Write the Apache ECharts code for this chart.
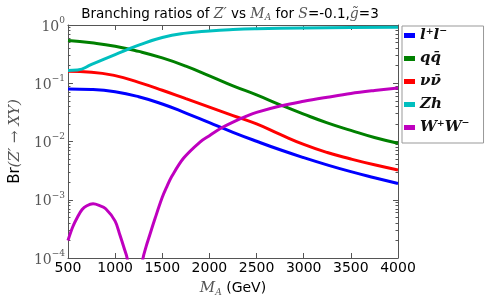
<!DOCTYPE html>
<html><head><meta charset="utf-8">
<script src="https://cdn.jsdelivr.net/npm/echarts@6/dist/echarts.min.js"></script>
<style>html,body{margin:0;padding:0;background:#fff}#c{width:491px;height:302px}</style>
</head><body><div id="c"></div>
<script>
// ---- data ----
const massTicks = [500, 1000, 1500, 2000, 2500, 3000, 3500, 4000];
const yTicks = [1e-4, 1e-3, 1e-2, 1e-1, 1];
const mass = [500, 750, 1000, 1250, 1500, 1750, 2000, 2250, 2500, 2750, 3000, 3250, 3500, 3750, 4000];
const brLL = [0.080, 0.0782, 0.0713, 0.0586, 0.0440, 0.0308, 0.0210, 0.0144, 0.0101, 0.00721, 0.00528, 0.00396, 0.00304, 0.00239, 0.00190];
const brQQ = [0.54, 0.495, 0.433, 0.352, 0.272, 0.197, 0.134, 0.0902, 0.0631, 0.0427, 0.0295, 0.0209, 0.0155, 0.0117, 0.00933];
const brNN = [0.16, 0.155, 0.135, 0.1035, 0.0759, 0.0543, 0.0389, 0.0279, 0.0200, 0.0132, 0.0089, 0.00646, 0.00501, 0.00398, 0.00324];
const massZh = [500, 600, 750, 1000, 1250, 1500, 1750, 2000, 2250, 2500, 3000, 3500, 4000];
const brZh = [0.166, 0.169, 0.21, 0.31, 0.45, 0.61, 0.725, 0.79, 0.835, 0.862, 0.89, 0.905, 0.915];
const massWW = [500, 550, 600, 650, 700, 766, 830, 900, 1000, 1050, 1100, 1127, 1150, 1180, 1210, 1240, 1270, 1296, 1330, 1357, 1424, 1500, 1550, 1600, 1727, 1900, 2000, 2130, 2250, 2400, 2500, 2750, 3000, 3250, 3500, 3750, 4000];
const brWW = [2.0e-4, 3.4e-4, 5.0e-4, 6.8e-4, 7.9e-4, 8.5e-4, 8.0e-4, 7.0e-4, 4.3e-4, 2.5e-4, 1.4e-4, 1.0e-4, 5.2e-5, 1.3e-5, 1e-7, 1.2e-5, 4.9e-5, 1.0e-4, 1.6e-4, 2.2e-4, 4.8e-4, 1.1e-3, 1.7e-3, 2.5e-3, 5.2e-3, 0.0098, 0.0126, 0.0172, 0.0216, 0.0275, 0.0316, 0.0407, 0.049, 0.0575, 0.0668, 0.075, 0.083];
const names = ['l⁺l⁻', 'qq̄', 'νν̄', 'Zh', 'W⁺W⁻'];
const colors = ['#0000ff', '#008000', '#ff0000', '#00bfbf', '#bf00bf'];

const minorTicks = [];
for (let e = -4; e < 0; e++) for (let k = 2; k <= 9; k++) minorTicks.push(k * Math.pow(10, e));

const pairs = (xs, ys) => xs.map((x, i) => [x, ys[i]]);
const serif = 'DejaVu Serif';
const sans = 'DejaVu Sans';
const frame = '#555';

const chart = echarts.init(document.getElementById('c'), null, {renderer: 'canvas'});
const grid = {left: 52, right: 93, top: 25, bottom: 37};

function yAxisBase(pos, extra) {
  return Object.assign({
    type: 'log', logBase: 10, min: 1e-4, max: 1, position: pos, gridIndex: 0,
    axisLine: {show: true, lineStyle: {color: frame, width: 1}},
    splitLine: {show: false},
    axisLabel: {show: false},
    axisTick: {show: true, inside: true, length: 5, lineStyle: {color: frame}}
  }, extra);
}

const option = {
  animation: false,
  backgroundColor: '#fff',
  title: {
    text: '{n|Branching ratios of }{m|Z′}{n| vs }{m|M}{sub|A}{n| for }{m|S}{n|=-0.1,}{m|g̃}{n|=3}',
    left: 225, top: 2, textAlign: 'center',
    textStyle: {
      fontWeight: 'normal',
      rich: {
        n: {fontFamily: sans, fontWeight: 'normal', fontSize: 13.5, color: '#000'},
        m: {fontFamily: serif, fontWeight: 'normal', fontStyle: 'italic', fontSize: 14, color: '#555'},
        sub: {fontFamily: serif, fontWeight: 'normal', fontStyle: 'italic', fontSize: 9, color: '#555', verticalAlign: 'bottom', padding: [6, 0, 0, 0]}
      }
    }
  },
  grid: grid,
  legend: {
    orient: 'vertical', left: 402, top: 26,
    data: names,
    itemWidth: 11, itemHeight: 5, itemGap: 8,
    icon: 'rect',
    borderColor: '#999', borderWidth: 1, borderRadius: 0,
    padding: [2, 14, 8, 2],
    textStyle: {fontFamily: serif, fontStyle: 'italic', fontWeight: 'bold', fontSize: 15, color: '#111', lineHeight: 15}
  },
  xAxis: [{
    type: 'value', min: 500, max: 4000, interval: 500, position: 'bottom',
    name: '{m|M}{sub|A}{n| (GeV)}', nameLocation: 'middle', nameGap: 22,
    nameTextStyle: {
      rich: {
        n: {fontFamily: sans, fontSize: 14, color: '#000'},
        m: {fontFamily: serif, fontStyle: 'italic', fontSize: 15, color: '#555'},
        sub: {fontFamily: serif, fontStyle: 'italic', fontSize: 9, color: '#555', verticalAlign: 'bottom', padding: [8, 0, 0, 0]}
      }
    },
    axisLine: {show: true, onZero: false, lineStyle: {color: frame}},
    splitLine: {show: false},
    axisTick: {show: true, inside: true, length: 5, lineStyle: {color: frame}},
    axisLabel: {fontFamily: sans, fontSize: 14, color: '#000', margin: 3,
      customValues: massTicks, formatter: v => String(v)}
  }, {
    type: 'value', min: 500, max: 4000, interval: 500, position: 'top',
    axisLine: {show: true, onZero: false, lineStyle: {color: frame}},
    splitLine: {show: false},
    axisTick: {show: true, inside: true, length: 5, lineStyle: {color: frame}},
    axisLabel: {show: false}
  }],
  yAxis: [
    yAxisBase('left', {
      name: '{n|Br}{m|(Z′ → XY)}', nameLocation: 'middle', nameGap: 30, nameRotate: 90,
      nameTextStyle: {
        rich: {
          n: {fontFamily: sans, fontSize: 15, color: '#000'},
          m: {fontFamily: serif, fontStyle: 'italic', fontSize: 15, color: '#555'}
        }
      },
      axisLabel: {
        show: true, margin: 3,
        customValues: yTicks,
        formatter: v => {
          const e = Math.round(Math.log10(v));
          return '{b|10}{s|' + (e < 0 ? '−' + (-e) : e) + '}';
        },
        rich: {
          b: {fontFamily: serif, fontSize: 14, color: '#555', verticalAlign: 'bottom', lineHeight: 18},
          s: {fontFamily: serif, fontSize: 9, color: '#555', verticalAlign: 'top', lineHeight: 18}
        }
      },
      axisTick: {show: true, inside: true, length: 5, lineStyle: {color: frame}, customValues: yTicks}
    }),
    yAxisBase('right', {axisTick: {show: true, inside: true, length: 5, lineStyle: {color: frame}, customValues: yTicks}}),
    yAxisBase('left', {axisLine: {show: false}, axisTick: {show: true, inside: true, length: 2.5, lineStyle: {color: frame}, customValues: minorTicks}}),
    yAxisBase('right', {axisLine: {show: false}, axisTick: {show: true, inside: true, length: 2.5, lineStyle: {color: frame}, customValues: minorTicks}})
  ],
  series: [
    {name: names[0], data: pairs(mass, brLL)},
    {name: names[1], data: pairs(mass, brQQ)},
    {name: names[2], data: pairs(mass, brNN)},
    {name: names[3], data: pairs(massZh, brZh)},
    {name: names[4], data: pairs(massWW, brWW), smooth: 0.35}
  ].map((s, i) => Object.assign({
    type: 'line', smooth: 0.5, showSymbol: false, symbol: 'none', clip: true,
    xAxisIndex: 0, yAxisIndex: 0,
    color: colors[i],
    lineStyle: {color: colors[i], width: 3}
  }, s))
};
chart.setOption(option);
</script></body></html>
